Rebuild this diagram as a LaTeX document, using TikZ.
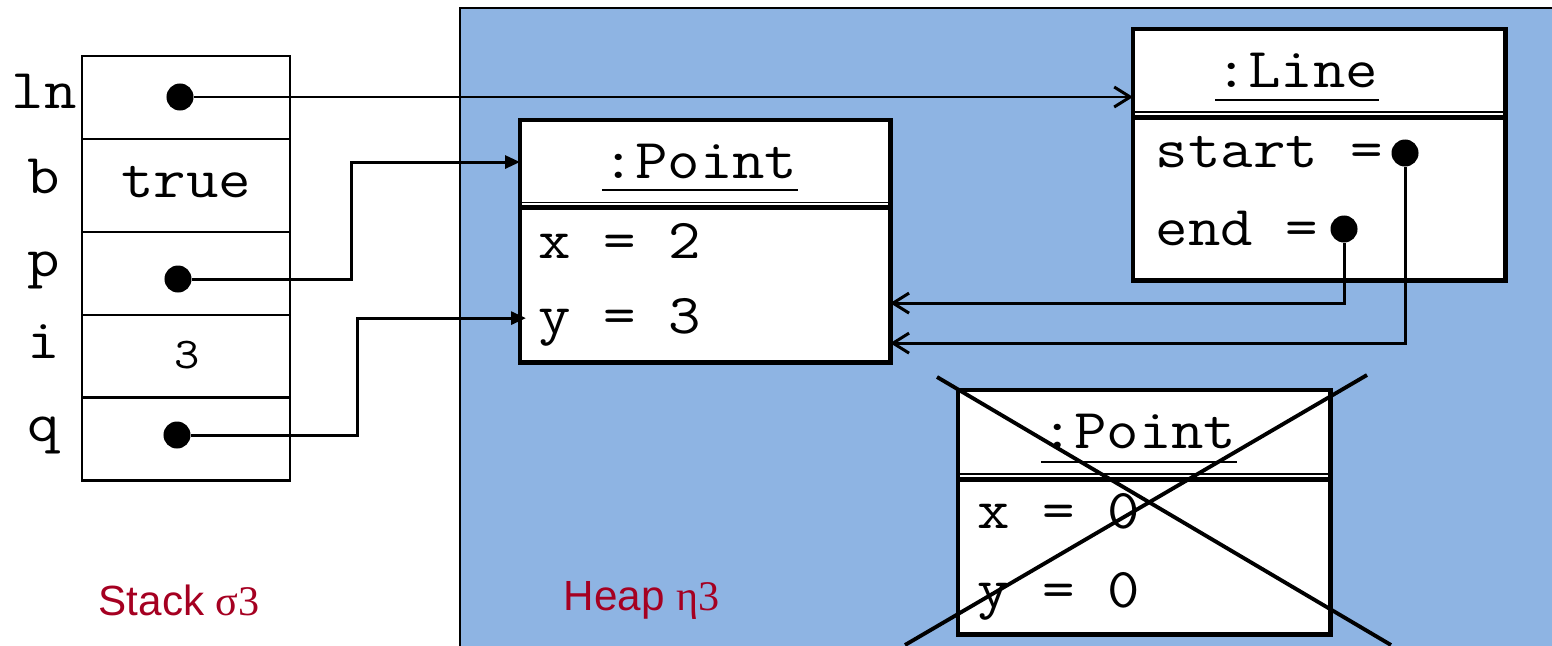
\documentclass[tikz,border=0pt]{standalone}
\usepackage{fontspec}
\setmainfont{Liberation Sans}
\newfontfamily\monofont[FakeStretch=1.12]{Latin Modern Mono}
\newfontfamily\greekfont{Liberation Serif}
\usetikzlibrary{arrows.meta,positioning}
\definecolor{heapblue}{HTML}{8EB4E3}
\definecolor{labelred}{HTML}{A50021}

\begin{document}
\begin{tikzpicture}[
  x=0.01cm, y=-0.01cm,
  monotext/.style={font=\monofont\fontsize{16}{19}\selectfont, inner sep=0pt},
  cell/.style={draw, line width=0.75pt, minimum width=2.08cm, inner sep=0pt, outer sep=0pt},
  varname/.style={monotext, anchor=base},
  objbox/.style={draw, line width=1.4pt, fill=white, inner sep=0pt, outer sep=0pt, anchor=north west},
  septhin/.style={line width=0.45pt},
  septhick/.style={line width=1.4pt},
  ref/.style={circle, fill, inner sep=0pt, minimum size=0.27cm},
  ptr/.style={line width=0.85pt},
  barb/.style={ptr, -{Straight Barb[length=1.6mm, width=2mm]}},
  tri/.style={ptr, -{Triangle[length=1.5mm, width=1.3mm]}},
  caption/.style={font=\fontsize{12}{14}\selectfont, text=labelred, inner sep=0pt, anchor=base west}
]
\useasboundingbox (0,0) rectangle (1552,645);
\clip (0,0) rectangle (1552,645);

% heap area
\fill[heapblue] (460,8) rectangle (1552,650);
\draw[line width=0.4pt] (460,650) -- (460,8) -- (1552,8);

% stack frame
\node[cell, minimum height=0.83cm] (ln) at (186,97.5) {};
\node[cell, minimum height=0.93cm, below=0pt of ln] (b) {};
\node[cell, minimum height=0.83cm, below=0pt of b] (p) {};
\node[cell, minimum height=0.82cm, below=0pt of p] (i) {};
\node[cell, minimum height=0.83cm, below=0pt of i] (q) {};

\node[varname] (lnname) at (44,108) {ln};
\node[varname] (bname) at (44,193) {b};
\node[varname] (pname) at (44,276) {p};
\node[varname] (iname) at (44,358) {i};
\node[varname] (qname) at (44,441) {q};

\node[ref] (lnref) at (180,97) {};
\node[monotext, anchor=base] (bval) at (186,197) {true};
\node[ref] (pref) at (178,279) {};
\node[font=\monofont\fontsize{12.5}{15}\selectfont, inner sep=0pt, anchor=base] (ival) at (187,368) {3};
\node[ref] (qref) at (177,435) {};

% object :Point
\node[objbox, minimum width=3.7cm, minimum height=2.42cm] (pt) at (520,120) {};
\draw[septhin] ([yshift=-0.825cm]pt.north west) -- ([yshift=-0.825cm]pt.north east);
\draw[septhick] ([yshift=-0.875cm]pt.north west) -- ([yshift=-0.875cm]pt.north east);
\node[monotext, anchor=base] (pttitle) at (700,178) {:Point};
\draw[line width=0.55pt] ([yshift=-0.12cm]pttitle.base west) -- ([yshift=-0.12cm]pttitle.base east);
\node[monotext, anchor=base west] (ptx) at (538,258) {x = 2};
\node[monotext, anchor=base west] (pty) at (538,333) {y = 3};

% object :Line
\node[objbox, minimum width=3.72cm, minimum height=2.51cm] (line) at (1133,29) {};
\draw[septhin] ([yshift=-0.83cm]line.north west) -- ([yshift=-0.83cm]line.north east);
\draw[septhick] ([yshift=-0.88cm]line.north west) -- ([yshift=-0.88cm]line.north east);
\node[monotext, anchor=base] (linetitle) at (1297,87) {:Line};
\draw[line width=0.55pt] ([yshift=-0.13cm]linetitle.base west) -- ([yshift=-0.13cm]linetitle.base east);
\node[monotext, anchor=base west] (linestart) at (1155,167) {start =};
\node[monotext, anchor=base west] (lineend) at (1155,245) {end =};
\node[ref] (startref) at (1405,153) {};
\node[ref] (endref) at (1344,229) {};

% garbage :Point
\node[objbox, minimum width=3.72cm, minimum height=2.44cm] (old) at (958,390) {};
\draw[septhin] ([yshift=-0.84cm]old.north west) -- ([yshift=-0.84cm]old.north east);
\draw[septhick] ([yshift=-0.895cm]old.north west) -- ([yshift=-0.895cm]old.north east);
\node[monotext, anchor=base] (oldtitle) at (1139,448) {:Point};
\draw[line width=0.55pt] ([yshift=-0.14cm]oldtitle.base west) -- ([yshift=-0.14cm]oldtitle.base east);
\node[monotext, anchor=base west] (oldx) at (977,528) {x = 0};
\node[monotext, anchor=base west] (oldy) at (977,607) {y = 0};
\draw[line width=1.1pt] (937,377) -- (1391,645);
\draw[line width=1.1pt] (1367,375) -- (905,645);

% references
\draw[barb] (lnref) -- (lnref -| line.west);
\draw[tri] (pref) -- (351,279) |- ([yshift=-0.42cm]pt.north west);
\draw[tri] (qref) -- (357,435) |- ([xshift=0.06cm, yshift=-1.98cm]pt.north west);
\draw[barb] (endref) |- ([yshift=0.59cm]pt.south east);
\draw[barb] (startref) |- ([yshift=0.19cm]pt.south east);

% captions
\node[caption] (stacklabel) at (98,615) {Stack {\greekfont σ3}};
\node[caption] (heaplabel) at (563,610) {Heap {\greekfont η3}};
\end{tikzpicture}
\end{document}
